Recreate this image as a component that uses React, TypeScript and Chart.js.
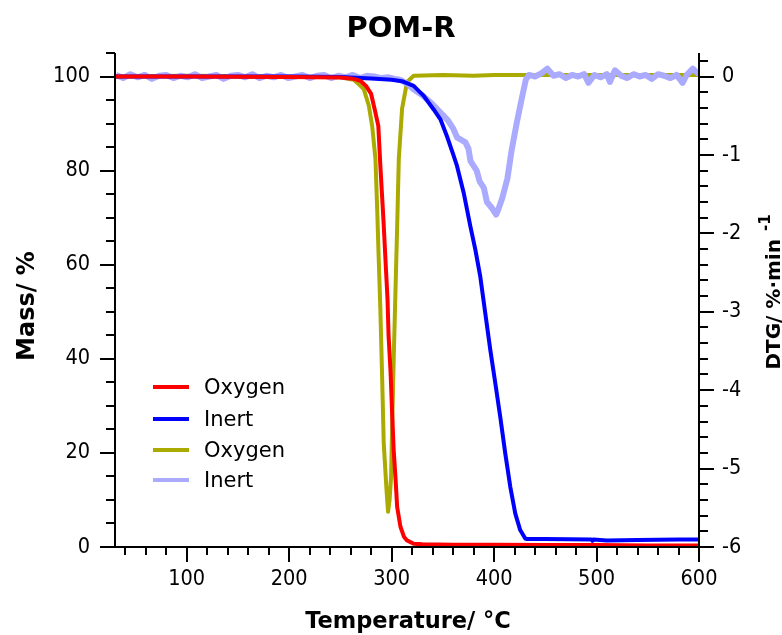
import React, { useEffect, useRef } from "react";
import { Chart, registerables } from "chart.js";

Chart.register(...registerables);

// ---------------- data ----------------
const chartTitle = "POM-R";
const xTitle = "Temperature/ °C";
const yLeftTitle = "Mass/ %";
const yRightTitle = "DTG/ %·min";
const yRightSup = "-1";

const xTicks = [100, 200, 300, 400, 500, 600];
const yLeftTicks = [0, 20, 40, 60, 80, 100];
const yRightTicks = [-6, -5, -4, -3, -2, -1, 0];

const legendLabels = ["Oxygen", "Inert", "Oxygen", "Inert"];

// Mass, oxygen [T, %]
const oxygenMass: [number, number][] = [
  [30, 100], [100, 100], [200, 99.9], [250, 99.8], [260, 99.6], [265, 99.4], [270, 99.0],
  [275, 98.0], [280, 96.3], [284, 92.5], [287, 89.5], [289, 81], [292, 69.6], [294, 61],
  [296, 52.6], [297, 45], [299, 37], [300.5, 28.4], [302, 20.6], [303.7, 14.9], [305.4, 8.5],
  [308.6, 4.3], [312, 2.2], [315, 1.4], [321.5, 0.7], [330, 0.6], [360, 0.5], [400, 0.5],
  [450, 0.4], [500, 0.4], [550, 0.3], [600, 0.3],
];

// Mass, inert [T, %]
const inertMass: [number, number][] = [
  [30, 100], [100, 100], [200, 100], [250, 99.9], [280, 99.6], [300, 99.3], [310, 99.0],
  [321.5, 98], [331.3, 95.9], [341, 93], [347.6, 90.9], [354, 87.3], [360, 83.5],
  [363.8, 81], [370.3, 75.3], [376.8, 68.2], [381.7, 63.2], [386.5, 57.5], [391.4, 49.7],
  [396.3, 41.9], [401.2, 34.8], [406, 27.7], [410.9, 19.9], [415.8, 12.8], [420.7, 7.1],
  [425.5, 3.6], [430.4, 1.8], [432, 1.7], [450, 1.7], [495, 1.6], [496, 1.3], [497, 1.6],
  [510, 1.4], [540, 1.5], [580, 1.6], [600, 1.6],
];

// DTG, oxygen [T, %/min]
const oxygenDtg: [number, number][] = [
  [30, 0], [100, 0.01], [200, 0], [250, -0.01], [263, -0.04], [268, -0.1], [272.8, -0.16],
  [277.7, -0.37], [281, -0.63], [284.2, -1.05], [285.9, -1.69], [287.4, -2.33], [289, -2.97],
  [290.7, -3.82], [292.3, -4.68], [295, -5.27], [296.5, -5.55], [298, -5.4], [299.5, -5.1],
  [300.5, -4.46], [302, -3.61], [303.7, -2.76], [305.4, -1.91], [307, -1.05], [310.2, -0.41],
  [315, -0.07], [321.5, 0.01], [350, 0.02], [380, 0.01], [400, 0.02], [450, 0.02],
  [500, 0.02], [550, 0.02], [600, 0.02],
];

// DTG, inert [T, %/min]
const inertDtg: [number, number][] = [
  [31, 0.02], [38, -0.02], [45, 0.03], [52, -0.01], [59, 0.02], [66, -0.03], [73, 0.01],
  [80, 0.02], [87, -0.02], [94, 0.01], [101, -0.01], [108, 0.03], [115, -0.02], [122, 0.0],
  [129, 0.02], [136, -0.03], [143, 0.01], [150, 0.02], [157, -0.01], [164, 0.03],
  [171, -0.02], [178, 0.01], [185, -0.01], [192, 0.02], [199, -0.02], [206, 0.0],
  [213, 0.02], [220, -0.02], [227, 0.01], [234, 0.02], [241, -0.02], [248, 0.01],
  [255, -0.01], [262, 0.02], [269, -0.02], [276, 0.01], [283, 0.0], [290, -0.02],
  [297, -0.01], [303, -0.03], [308, -0.04], [315, -0.09], [321, -0.16], [330, -0.24],
  [338, -0.33], [347, -0.45], [355, -0.56], [360, -0.66], [364, -0.78], [367, -0.8],
  [372, -0.84], [375, -0.92], [377, -1.08], [383, -1.2], [386, -1.34], [390, -1.42],
  [393, -1.6], [398, -1.68], [402, -1.76], [404, -1.7], [408, -1.55], [413, -1.3],
  [417, -0.95], [422, -0.6], [427, -0.28], [431, -0.04], [434, 0.02], [440, 0.0],
  [446, 0.04], [452, 0.1], [458, 0.01], [464, 0.03], [470, -0.02], [476, 0.02], [482, 0.0],
  [488, 0.03], [492, -0.08], [498, 0.02], [504, -0.01], [510, 0.03], [513, -0.07],
  [518, 0.08], [524, 0.01], [530, -0.02], [536, 0.03], [542, 0.0], [548, 0.02],
  [554, -0.03], [560, 0.03], [566, 0.01], [572, -0.02], [578, 0.02], [584, -0.08],
  [588, 0.02], [594, 0.1], [600, 0.03],
];

// ---------------- styles ----------------
const FONT = "'DejaVu Sans', Verdana, sans-serif";
const TICK_FONT = "'DejaVu Sans Condensed', 'DejaVu Sans', sans-serif";
const colors = ["#ff0000", "#0000ff", "#aaaa00", "#aaaaff"];
const widths = [4, 4, 4, 6];

const toXY = (arr: [number, number][]) => arr.map(([x, y]) => ({ x, y }));

const decorPlugin = {
  id: "decor",
  afterDraw(chart: any) {
    const ctx = chart.ctx as CanvasRenderingContext2D;
    const { left, right, top, bottom } = chart.chartArea;
    const xs = chart.scales.x;
    const yl = chart.scales.yL;
    const yr = chart.scales.yR;
    ctx.save();
    ctx.strokeStyle = "#000";
    ctx.lineWidth = 2;
    ctx.lineCap = "butt";
    // axis lines
    ctx.beginPath();
    ctx.moveTo(left, top);
    ctx.lineTo(left, bottom);
    ctx.lineTo(right, bottom);
    ctx.lineTo(right, top);
    ctx.stroke();

    // x ticks (minor every 20)
    ctx.beginPath();
    for (let k = 2; k <= 30; k++) {
      const v = k * 20;
      const px = Math.round(xs.getPixelForValue(v));
      const len = v % 100 === 0 ? 15 : 8;
      ctx.moveTo(px, bottom);
      ctx.lineTo(px, bottom + len);
    }
    // left y ticks (every 5)
    for (let k = 0; k <= 21; k++) {
      const v = k * 5;
      const py = Math.round(yl.getPixelForValue(v));
      const len = v % 20 === 0 ? 15 : 9;
      ctx.moveTo(left, py);
      ctx.lineTo(left - len, py);
    }
    // right y ticks (every 0.2)
    for (let k = -30; k <= 1; k++) {
      const v = k / 5;
      const py = Math.round(yr.getPixelForValue(v));
      const len = k % 5 === 0 ? 15 : 9;
      ctx.moveTo(right, py);
      ctx.lineTo(right + len, py);
    }
    ctx.stroke();

    // titles
    ctx.fillStyle = "#000";
    ctx.textAlign = "center";
    ctx.textBaseline = "alphabetic";
    ctx.font = `bold 29px ${FONT}`;
    ctx.fillText(chartTitle, 401, 37);

    ctx.font = `bold 22.5px ${FONT}`;
    ctx.fillText(xTitle, 408, 628);

    ctx.save();
    ctx.translate(34, 306);
    ctx.rotate(-Math.PI / 2);
    ctx.font = `bold 24px ${FONT}`;
    ctx.fillText(yLeftTitle, 0, 0);
    ctx.restore();

    ctx.save();
    ctx.translate(780, 292);
    ctx.rotate(-Math.PI / 2);
    ctx.font = `bold 20px ${FONT}`;
    ctx.textAlign = "left";
    const w = ctx.measureText(yRightTitle).width;
    ctx.font = `bold 15px ${FONT}`;
    const ws = ctx.measureText(yRightSup).width;
    const total = w + 8 + ws;
    ctx.font = `bold 20px ${FONT}`;
    ctx.fillText(yRightTitle, -total / 2, 0);
    ctx.font = `bold 15px ${FONT}`;
    ctx.fillText(yRightSup, -total / 2 + w + 8, -10);
    ctx.restore();

    // legend
    ctx.font = `21px ${FONT}`;
    ctx.textAlign = "left";
    ctx.textBaseline = "middle";
    const rows = [387, 419, 450, 480];
    legendLabels.forEach((lab, i) => {
      ctx.strokeStyle = colors[i];
      ctx.lineWidth = 4;
      ctx.beginPath();
      ctx.moveTo(153, rows[i]);
      ctx.lineTo(189, rows[i]);
      ctx.stroke();
      ctx.fillStyle = "#000";
      ctx.fillText(lab, 204, rows[i] + 2);
    });
    ctx.restore();
  },
};

export default function App() {
  const ref = useRef<HTMLCanvasElement | null>(null);
  useEffect(() => {
    document.body.style.margin = "0";
    document.body.style.overflow = "hidden";
    const canvas = ref.current;
    if (!canvas) return;
    const tickFont = { family: TICK_FONT, size: 21.5 };
    const chart = new Chart(canvas, {
      type: "line",
      data: {
        datasets: [
          { label: legendLabels[0], data: toXY(oxygenMass), yAxisID: "yL", borderColor: colors[0], borderWidth: widths[0], order: 0 },
          { label: legendLabels[1], data: toXY(inertMass), yAxisID: "yL", borderColor: colors[1], borderWidth: widths[1], order: 1 },
          { label: legendLabels[2], data: toXY(oxygenDtg), yAxisID: "yR", borderColor: colors[2], borderWidth: widths[2], order: 3 },
          { label: legendLabels[3], data: toXY(inertDtg), yAxisID: "yR", borderColor: colors[3], borderWidth: widths[3], order: 2 },
        ] as any,
      },
      options: {
        responsive: false,
        animation: false,
        devicePixelRatio: 1,
        layout: { padding: { top: 53, left: 0, right: 0, bottom: 0 } },
        elements: { point: { radius: 0 }, line: { tension: 0, borderJoinStyle: "round" } },
        plugins: { legend: { display: false }, title: { display: false }, tooltip: { enabled: false } },
        scales: {
          x: {
            type: "linear",
            min: 30,
            max: 600,
            grid: { display: false, drawTicks: false },
            border: { display: false },
            ticks: { font: tickFont, color: "#000", padding: 20, maxRotation: 0 },
            afterBuildTicks: (s: any) => { s.ticks = xTicks.map((v) => ({ value: v })); },
            afterFit: (s: any) => { s.height = 88; },
          },
          yL: {
            type: "linear",
            position: "left",
            min: 0,
            max: 105,
            grid: { display: false, drawTicks: false },
            border: { display: false },
            ticks: { font: tickFont, color: "#000", padding: 25 },
            afterBuildTicks: (s: any) => { s.ticks = yLeftTicks.map((v) => ({ value: v })); },
            afterFit: (s: any) => { s.width = 115; },
          },
          yR: {
            type: "linear",
            position: "right",
            min: -6,
            max: 0.3,
            grid: { display: false, drawTicks: false },
            border: { display: false },
            ticks: { font: tickFont, color: "#000", padding: 23 },
            afterBuildTicks: (s: any) => { s.ticks = yRightTicks.map((v) => ({ value: v })); },
            afterFit: (s: any) => { s.width = 83; },
          },
        },
      } as any,
      plugins: [decorPlugin],
    });
    return () => chart.destroy();
  }, []);
  return (
    <div style={{ width: 782, height: 635 }}>
      <canvas ref={ref} width={782} height={635} style={{ display: "block" }} />
    </div>
  );
}
